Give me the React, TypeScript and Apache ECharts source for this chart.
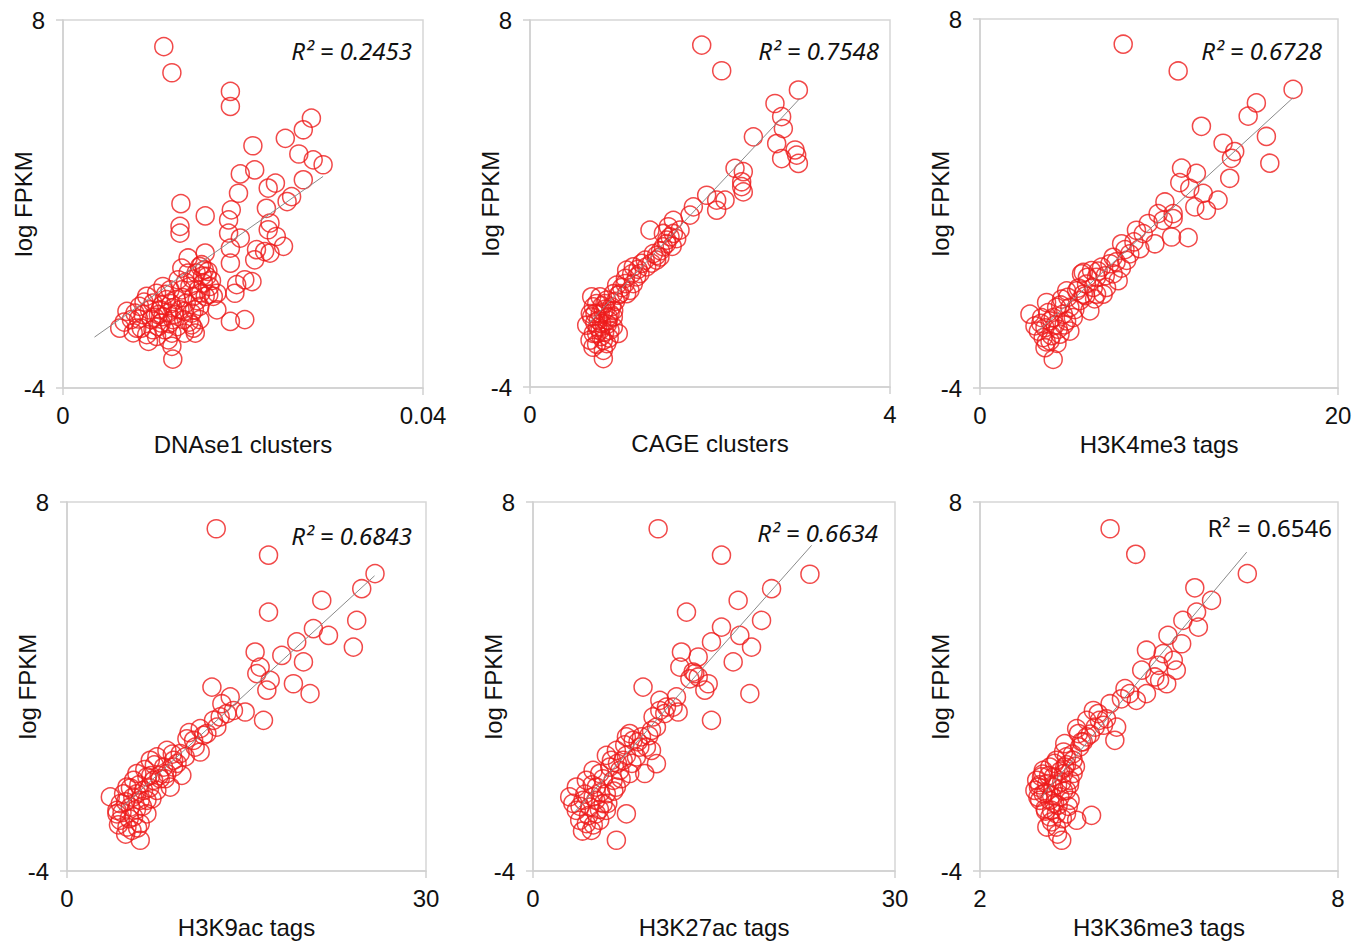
import React, { useEffect, useRef } from "react";
import * as echarts from "echarts";

// ---------- data (x, log FPKM) ----------
const dnasePts: number[][] = [
  [0.0112, 7.13], [0.0121, 6.28], [0.0186, 5.67], [0.0186, 5.18], [0.0276, 4.8], [0.0267, 4.42], [0.0247, 4.14],
  [0.0211, 3.9], [0.0262, 3.63], [0.0278, 3.44], [0.0289, 3.28], [0.0213, 3.11], [0.0197, 2.98], [0.0267, 2.79],
  [0.0236, 2.68], [0.0228, 2.52], [0.0254, 2.24], [0.0249, 2.08], [0.0195, 2.35], [0.0131, 2.01], [0.0158, 1.61],
  [0.0187, 1.81], [0.0184, 1.48], [0.0226, 1.86], [0.023, 1.38], [0.013, 1.27], [0.013, 1.05], [0.0184, 1.05],
  [0.0197, 0.89], [0.0228, 1.16], [0.0237, 0.94], [0.0245, 0.62], [0.0215, 0.51], [0.0224, 0.45], [0.023, 0.4],
  [0.0186, 0.56], [0.0213, 0.18], [0.0186, 0.07], [0.0139, 0.24], [0.0158, 0.4], [0.0132, -0.09], [0.0152, -0.04],
  [0.0161, -0.2], [0.0111, -0.69], [0.0202, -0.47], [0.021, -0.53], [0.0193, -0.63], [0.0191, -0.91], [0.0171, -0.91],
  [0.0171, -1.45], [0.0186, -1.83], [0.0202, -1.77], [0.0145, -2.05], [0.0147, -2.21], [0.0121, -2.64], [0.0122, -3.06],
  [0.0063, -2.05], [0.0071, -1.5], [0.0076, -1.77], [0.0082, -2.05], [0.0085, -1.34], [0.0089, -1.61], [0.0093, -2.26],
  [0.0095, -2.48], [0.0098, -1.77], [0.01, -1.23], [0.0104, -0.91], [0.0108, -1.45], [0.0109, -1.88], [0.0113, -2.1],
  [0.0115, -1.12], [0.0117, -1.56], [0.0119, -0.8], [0.0121, -2.21], [0.0122, -1.77], [0.0126, -1.12], [0.0128, -0.47],
  [0.013, -1.45], [0.0132, -0.8], [0.0134, -1.77], [0.0135, -2.21], [0.0137, -1.23], [0.0139, -0.25], [0.0141, -0.69],
  [0.0143, -1.56], [0.0145, -1.01], [0.0148, -0.25], [0.015, -0.8], [0.0152, -1.34], [0.0154, 0.02], [0.0156, -0.58],
  [0.0158, -1.01], [0.016, -0.36], [0.0163, -0.69], [0.0167, -1.01], [0.0152, -1.77], [0.0143, -1.94], [0.01, -2.1],
  [0.0087, -2.05], [0.008, -1.56], [0.0093, -1.01], [0.0106, -1.61], [0.0122, -1.39], [0.0111, -1.67], [0.0135, -1.5],
  [0.0117, -2.43], [0.0104, -2.32],
  [0.009, -1.2], [0.0096, -1.45], [0.0102, -1.7], [0.011, -1.3], [0.0114, -0.95], [0.0118, -1.9], [0.0124, -1.6],
  [0.0127, -2.0], [0.0133, -1.05], [0.0136, -0.55], [0.014, -1.85], [0.0144, -0.45], [0.0149, -1.15], [0.0153, -0.9],
  [0.0157, -0.15], [0.0162, -0.95], [0.0078, -2.2], [0.0068, -1.85], [0.0084, -1.75], [0.0106, -2.0], [0.012, -1.25],
  [0.0146, -1.45], [0.0155, -0.35], [0.0165, -0.5],
];
const dnaseTrend: number[][] = [[0.0035, -2.34], [0.0289, 2.9]];

const cagePts: number[][] = [
  [1.908, 7.18], [2.13, 6.34], [2.982, 5.71], [2.722, 5.27], [2.796, 4.84], [2.815, 4.45], [2.482, 4.18], [2.741, 3.96],
  [2.945, 3.75], [2.796, 3.47], [2.982, 3.31], [2.963, 3.58], [2.278, 3.15], [2.37, 3.04], [2.352, 2.71], [2.37, 2.38],
  [2.352, 2.55], [1.963, 2.27], [2.074, 2.11], [2.167, 2.11], [2.074, 1.78], [1.815, 1.89], [1.778, 1.62], [1.593, 1.45],
  [1.537, 1.24], [1.333, 1.13], [1.556, 0.91], [1.63, 0.85], [1.482, 0.58], [1.444, 0.25], [1.407, 0.15], [1.241, 0.04],
  [1.148, -0.07], [1.074, -0.18], [1.056, -0.62], [0.963, -0.67], [1.111, -0.84], [0.926, -0.95], [0.852, -1.16],
  [0.778, -1.05], [0.741, -1.27], [0.704, -1.38], [0.815, -1.55], [0.87, -1.71], [0.759, -1.82], [0.685, -1.71],
  [0.63, -1.98], [0.704, -2.25], [0.667, -2.47], [0.815, -2.47], [0.981, -2.25], [0.926, -2.04], [0.852, -2.58],
  [0.815, -2.8], [0.815, -3.07], [0.778, -2.15], [0.87, -1.82], [0.907, -1.38], [1.0, -0.95], [1.148, -0.62],
  [1.222, -0.29], [1.296, -0.07], [1.37, 0.36], [1.519, 0.69], [1.482, 1.02], [1.407, 0.3], [1.593, 1.02], [1.667, 1.13],
  [0.722, -1.6], [0.796, -1.93], [0.833, -1.27], [0.889, -2.15], [0.741, -2.25], [0.685, -1.05], [0.926, -1.71],
  [1.074, -0.95], [1.185, -0.4],
  [0.72, -1.9], [0.75, -2.05], [0.78, -1.6], [0.8, -1.35], [0.84, -1.45], [0.86, -1.95], [0.89, -1.6], [0.74, -2.6],
  [0.79, -2.35], [0.83, -2.2], [0.88, -2.4], [0.95, -1.2], [0.98, -1.0], [1.02, -0.75], [1.06, -0.45], [1.13, -0.3],
  [1.2, -0.15], [1.28, 0.15], [1.35, 0.05], [1.45, 0.45], [1.52, 0.8], [1.58, 0.6], [0.7, -2.7], [0.67, -1.6], [0.93, -1.5],
];
const cageTrend: number[][] = [[0.65, -1.93], [3.0, 5.44]];

const h3k4me3Pts: number[][] = [
  [8.0, 7.18], [11.07, 6.31], [17.49, 5.71], [15.44, 5.27], [14.98, 4.84], [12.37, 4.51], [16.0, 4.18], [13.58, 3.96],
  [14.23, 3.69], [14.05, 3.47], [16.19, 3.31], [11.26, 3.15], [12.09, 2.98], [13.95, 2.82], [11.16, 2.68], [11.72, 2.49],
  [12.47, 2.33], [13.3, 2.11], [12.0, 1.89], [12.65, 1.78], [10.33, 2.05], [9.95, 1.67], [10.79, 1.51], [9.4, 1.35],
  [8.74, 1.13], [10.7, 0.91], [11.63, 0.89], [9.77, 0.69], [7.91, 0.69], [8.37, 0.36], [8.93, 0.53], [7.44, 0.25],
  [6.79, -0.07], [6.23, -0.18], [5.77, -0.24], [7.44, -0.29], [7.72, -0.51], [7.07, -0.73], [6.51, -0.95], [5.77, -0.95],
  [5.4, -0.84], [4.84, -0.84], [4.56, -1.11], [4.28, -1.38], [3.72, -1.22], [2.79, -1.6], [3.07, -1.98], [3.53, -2.36],
  [3.63, -2.69], [4.09, -3.07], [3.91, -1.82], [4.37, -2.09], [4.65, -1.6], [5.02, -1.38], [5.58, -1.16], [6.14, -1.49],
  [3.44, -1.71], [3.26, -2.15], [3.91, -2.47], [4.84, -1.82], [5.21, -1.71], [6.33, -0.73], [7.26, 0.04], [8.19, 0.15],
  [9.12, 1.02], [10.23, 1.45], [10.79, 1.67], [4.47, -2.25], [4.09, -1.71], [3.63, -2.04], [5.02, -2.15], [6.88, -0.95],
  [5.95, -0.62], [6.51, -0.4], [5.67, -0.29],
  [3.4, -1.9], [3.8, -1.55], [4.0, -2.3], [4.2, -1.95], [4.5, -1.3], [4.7, -1.95], [5.3, -1.45], [5.5, -0.75],
  [5.9, -1.0], [6.0, -0.4], [6.6, -0.2], [7.0, -0.35], [7.6, 0.1], [8.1, 0.5], [8.6, 0.75], [3.7, -2.5], [4.3, -2.55],
  [4.9, -1.05], [6.4, -1.1], [7.9, -0.1],
];
const h3k4me3Trend: number[][] = [[3.26, -2.15], [17.49, 5.44]];

const h3k9acPts: number[][] = [
  [12.47, 7.13], [16.84, 6.27], [16.84, 4.42], [25.74, 5.67], [24.63, 5.18], [21.29, 4.8], [24.21, 4.15], [20.59, 3.88],
  [21.85, 3.66], [23.93, 3.28], [19.2, 3.45], [15.72, 3.12], [17.95, 3.01], [19.76, 2.8], [16.14, 2.63], [15.86, 2.42],
  [16.98, 2.2], [16.7, 1.88], [18.92, 2.09], [20.31, 1.77], [12.11, 1.98], [13.64, 1.66], [12.94, 1.44], [13.91, 1.22],
  [14.89, 1.17], [16.42, 0.9], [12.8, 1.01], [12.52, 0.68], [11.13, 0.63], [11.41, 0.41], [10.02, 0.3], [10.71, 0.03],
  [11.13, -0.13], [9.88, -0.29], [8.35, -0.08], [7.51, -0.29], [6.96, -0.4], [8.91, -0.62], [9.6, -0.89], [8.35, -0.83],
  [7.79, -1.0], [6.68, -0.94], [5.84, -0.83], [5.57, -1.05], [5.01, -1.27], [6.4, -1.38], [7.1, -1.65], [7.51, -1.38],
  [8.63, -1.27], [3.62, -1.59], [4.45, -1.81], [4.17, -2.14], [5.01, -2.57], [4.45, -2.35], [6.12, -3.0], [5.57, -2.24],
  [5.29, -1.92], [6.12, -1.7], [4.73, -1.49], [6.68, -2.14], [6.12, -2.46], [7.24, -1.05], [8.07, -0.62], [8.91, -0.4],
  [9.46, -0.18], [10.58, 0.25], [11.69, 0.47], [12.24, 0.9], [13.36, 1.12], [4.17, -2.03], [5.43, -2.68], [5.84, -1.49],
  [6.68, -1.7],
  [4.6, -2.1], [4.9, -1.75], [5.2, -2.3], [5.5, -1.6], [5.8, -2.0], [6.0, -1.2], [6.3, -1.9], [6.5, -0.7], [6.9, -1.3],
  [7.3, -0.55], [7.7, -0.9], [8.2, -1.0], [8.8, -0.2], [9.2, -0.5], [4.3, -2.5], [4.9, -2.8], [5.3, -1.3], [7.0, -0.9],
  [5.9, -2.6], [10.2, 0.5],
];
const h3k9acTrend: number[][] = [[4.31, -2.03], [25.7, 5.6]];

const h3k27acPts: number[][] = [
  [10.37, 7.13], [15.62, 6.27], [22.95, 5.65], [19.77, 5.18], [17.0, 4.8], [12.72, 4.42], [18.94, 4.15], [15.62, 3.93],
  [17.14, 3.66], [14.79, 3.45], [18.11, 3.28], [12.3, 3.12], [13.69, 2.96], [16.59, 2.8], [12.17, 2.63], [13.27, 2.47],
  [13.69, 2.31], [14.52, 2.09], [14.24, 1.88], [13.0, 2.25], [17.97, 1.77], [14.79, 0.9], [9.12, 1.98], [10.51, 1.55],
  [11.89, 1.66], [11.61, 1.33], [12.03, 1.17], [10.92, 1.12], [9.95, 1.01], [10.23, 0.68], [9.82, 0.57], [8.99, 0.36],
  [8.3, 0.25], [8.02, 0.47], [8.85, 0.03], [9.82, -0.08], [10.23, -0.51], [9.26, -0.83], [7.74, -0.24], [6.91, -0.08],
  [6.08, -0.24], [6.36, -0.62], [7.19, -0.73], [8.02, -0.83], [5.53, -0.83], [4.98, -0.73], [4.42, -1.05], [3.59, -1.27],
  [3.04, -1.59], [4.15, -1.7], [3.59, -2.03], [3.87, -2.35], [4.84, -2.68], [5.25, -2.14], [5.81, -1.81], [6.08, -1.49],
  [6.91, -1.27], [7.74, -2.14], [6.91, -3.0], [4.98, -1.59], [4.42, -2.46], [5.53, -2.35], [6.64, -1.05], [7.47, -0.4],
  [8.57, -0.29], [9.4, 0.03], [10.51, 1.22], [11.06, 1.33], [13.41, 2.42], [6.08, -2.03], [4.7, -1.92], [5.25, -1.27],
  [7.74, 0.36],
  [3.9, -1.9], [4.3, -1.5], [4.6, -2.2], [4.9, -1.2], [5.2, -1.7], [5.5, -2.0], [5.8, -1.0], [6.2, -1.8], [6.5, -0.4],
  [7.0, -0.5], [7.3, -1.0], [8.2, -0.5], [8.7, 0.2], [9.6, 0.4], [4.1, -2.7], [5.0, -2.5], [5.6, -1.45], [6.7, -1.4],
  [3.3, -1.8], [7.6, 0.1],
];
const h3k27acTrend: number[][] = [[3.46, -2.08], [23.09, 6.59]];

const h3k36me3Pts: number[][] = [
  [4.18, 7.13], [4.61, 6.3], [6.48, 5.67], [5.6, 5.21], [5.88, 4.8], [5.63, 4.42], [5.4, 4.15], [5.66, 3.93],
  [5.15, 3.66], [5.38, 3.39], [4.79, 3.18], [5.07, 3.07], [5.24, 2.85], [4.99, 2.69], [4.71, 2.53], [4.93, 2.31],
  [5.13, 2.09], [4.79, 1.77], [4.62, 1.55], [4.43, 1.93], [4.37, 1.6], [4.18, 1.44], [3.98, 1.12], [4.12, 0.95],
  [4.29, 0.68], [3.93, 0.68], [3.79, 0.9], [3.62, 0.63], [3.65, 0.47], [3.73, 0.2], [4.26, 0.25], [3.42, 0.14],
  [3.4, -0.13], [3.45, -0.29], [3.56, -0.4], [3.28, -0.4], [3.17, -0.62], [3.06, -0.73], [2.95, -1.05], [2.98, -1.27],
  [3.06, -1.49], [3.17, -1.7], [3.34, -1.59], [3.45, -1.38], [3.51, -1.05], [3.4, -0.83], [3.23, -0.94], [3.09, -1.97],
  [3.17, -2.24], [3.28, -2.57], [3.37, -3.0], [3.62, -2.35], [3.87, -2.19], [3.45, -2.14], [3.31, -1.86], [3.12, -1.16],
  [3.03, -0.94], [3.23, -1.27], [3.42, -0.62], [3.51, -1.7], [3.12, -2.57], [3.28, -2.14], [3.9, 1.22], [4.51, 1.77],
  [4.07, 0.74], [5.01, 2.2], [5.29, 2.53], [2.92, -1.38], [3.0, -1.7], [3.2, -2.03], [3.37, -1.11], [3.56, -0.83],
  [3.67, 0.03], [3.79, 0.36],
  [3.0, -1.2], [3.1, -1.45], [3.15, -0.9], [3.2, -1.55], [3.25, -1.8], [3.3, -1.2], [3.35, -0.75], [3.4, -1.4],
  [3.45, -0.55], [3.5, -1.2], [3.1, -2.05], [3.2, -2.4], [3.3, -2.8], [3.38, -2.3], [3.55, -0.2], [3.6, -0.6],
  [3.25, -0.5], [2.97, -1.6], [3.05, -0.85], [3.48, -1.9], [3.7, 0.2], [3.85, 0.45], [4.0, 0.9],
];
const h3k36me3Trend: number[][] = [[3.03, -1.59], [6.47, 6.37]];

const xTitles = ["DNAse1 clusters", "CAGE clusters", "H3K4me3 tags", "H3K9ac tags", "H3K27ac tags", "H3K36me3 tags"];
const xRanges: number[][] = [[0, 0.04], [0, 4], [0, 20], [0, 30], [0, 30], [2, 8]];
const yRange = [-4, 8];
const yTitle = "log FPKM";
const r2Labels = ["R² = 0.2453", "R² = 0.7548", "R² = 0.6728", "R² = 0.6843", "R² = 0.6634", "R² = 0.6546"];
const r2Italic = [true, true, true, true, true, false];

const pointSets = [dnasePts, cagePts, h3k4me3Pts, h3k9acPts, h3k27acPts, h3k36me3Pts];
const trendSets = [dnaseTrend, cageTrend, h3k4me3Trend, h3k9acTrend, h3k27acTrend, h3k36me3Trend];

// ---------- layout ----------
const gridBoxes = [
  { left: 63, top: 20, width: 360, height: 368 },
  { left: 530, top: 20, width: 360, height: 367 },
  { left: 980, top: 19, width: 358, height: 369 },
  { left: 67, top: 502, width: 359, height: 369 },
  { left: 533, top: 502, width: 362, height: 369 },
  { left: 980, top: 502, width: 358, height: 369 },
];
const r2Pos = [
  [412, 50], [879, 50], [1322, 50], [412, 535], [878, 532], [1332, 527],
];

const AX_FONT = '"Liberation Sans", Arial, sans-serif';
const R2_FONT = '"Noto Sans", "Open Sans", sans-serif';

export default function App() {
  const ref = useRef<HTMLDivElement>(null);
  useEffect(() => {
    if (!ref.current) return;
    const chart = echarts.init(ref.current, undefined, { renderer: "svg" });
    const grid = gridBoxes.map((g) => ({ ...g, show: true, borderColor: "#d6d6d6", borderWidth: 1.5, backgroundColor: "#fff" }));
    const axisLineStyle = { lineStyle: { color: "#d0d0d0", width: 1.5 } };
    const xAxis = xRanges.map((r, i) => ({
      type: "value",
      gridIndex: i,
      min: r[0],
      max: r[1],
      name: xTitles[i],
      nameLocation: "middle",
      nameGap: 44,
      nameMoveOverlap: false,
      nameTextStyle: { color: "#111", fontSize: 24, fontFamily: AX_FONT },
      axisLine: { show: true, onZero: false, ...axisLineStyle },
      axisTick: { show: true, length: 7, customValues: r, lineStyle: { color: "#d0d0d0", width: 1.5 } },
      axisLabel: { customValues: r, color: "#111", fontSize: 24, fontFamily: AX_FONT, margin: 15 },
      splitLine: { show: false },
    }));
    const yAxis = xRanges.map((_, i) => ({
      type: "value",
      gridIndex: i,
      min: yRange[0],
      max: yRange[1],
      name: yTitle,
      nameLocation: "middle",
      nameGap: 28,
      nameMoveOverlap: false,
      nameTextStyle: { color: "#111", fontSize: 24, fontFamily: AX_FONT },
      axisLine: { show: true, onZero: false, ...axisLineStyle },
      axisTick: { show: true, length: 7, customValues: yRange, lineStyle: { color: "#d0d0d0", width: 1.5 } },
      axisLabel: { customValues: yRange, color: "#111", fontSize: 24, fontFamily: AX_FONT, margin: 18 },
      splitLine: { show: false },
    }));
    const series: any[] = [];
    pointSets.forEach((pts, i) => {
      series.push({
        type: "scatter",
        xAxisIndex: i,
        yAxisIndex: i,
        data: pts,
        symbol: "circle",
        symbolSize: 18,
        itemStyle: { color: "rgba(255,255,255,0)", borderColor: "#ee1c1c", borderWidth: 1.5 },
        z: 2,
      });
      series.push({
        type: "line",
        xAxisIndex: i,
        yAxisIndex: i,
        data: trendSets[i],
        symbol: "none",
        lineStyle: { color: "#8a8a8a", width: 1 },
        z: 3,
      });
    });
    const graphic = r2Labels.map((t, i) => ({
      type: "text",
      x: r2Pos[i][0],
      y: r2Pos[i][1],
      z: 10,
      style: {
        text: t,
        textAlign: "right",
        textVerticalAlign: "middle",
        font: `${r2Italic[i] ? "italic " : ""}24px ${R2_FONT}`,
        fill: "#111",
      },
    }));
    chart.setOption({
      animation: false,
      backgroundColor: "#fff",
      grid,
      xAxis,
      yAxis,
      series,
      graphic,
    });
    return () => chart.dispose();
  }, []);
  return <div ref={ref} style={{ position: "absolute", left: 0, top: 0, width: 1372, height: 943 }} />;
}
